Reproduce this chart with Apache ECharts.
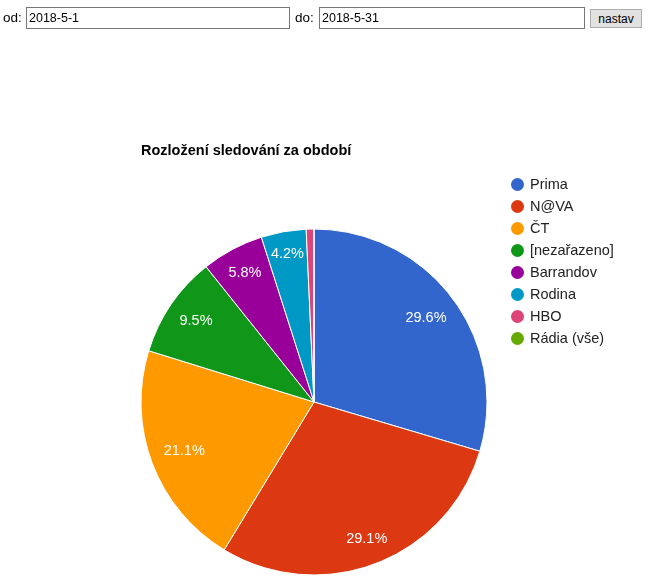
<!DOCTYPE html>
<html>
<head>
<meta charset="utf-8">
<script src="https://cdn.jsdelivr.net/npm/echarts@6/dist/echarts.min.js"></script>
<style>
  body { margin: 0; background: #fff; font-family: "Liberation Sans", Arial, sans-serif; }
  #chart { position: absolute; left: 0; top: 0; width: 654px; height: 583px; }
  #form { position: absolute; left: 0; top: 0; z-index: 2; font-size: 13.5px; color: #000; }
  #form input[type=text] { position: absolute; top: 7px; height: 20px; border: 1px solid #777; padding: 0 0 0 2px; margin: 0; font-family: "Liberation Sans", Arial, sans-serif; font-size: 12.5px; box-sizing: content-box; outline: none; }
  #form span { position: absolute; top: 10px; }
  #form button { position: absolute; top: 9px; left: 590px; width: 52px; height: 19px; margin: 0; background: #e1e1e1; border: 1px solid #adadad; font-family: "Liberation Sans", Arial, sans-serif; font-size: 12px; padding: 0; color: #000; }
</style>
</head>
<body>
<div id="form">
  <span style="left:3px">od:</span>
  <input type="text" id="od" value="2018-5-1" style="left:26px;width:260px">
  <span style="left:295px">do:</span>
  <input type="text" id="do" value="2018-5-31" style="left:319px;width:262px">
  <button>nastav</button>
</div>
<div id="chart"></div>
<script>
// data
var stanice = ['Prima', 'N@VA', 'ČT', '[nezařazeno]', 'Barrandov', 'Rodina', 'HBO', 'Rádia (vše)'];
var podil = [29.6, 29.1, 21.1, 9.5, 5.8, 4.2, 0.7, 0.02];
var barvy = ['#3366cc', '#dc3912', '#ff9900', '#109618', '#990099', '#0099c6', '#dd4477', '#66aa00'];

var center = [314, 402];
var r = 173;
var labelFont = '14.5px "Liberation Sans"';

// mereni sirky textu
var ctx = document.createElement('canvas').getContext('2d');
ctx.font = labelFont;

var total = 0;
for (var i = 0; i < podil.length; i++) total += podil[i];

var data = [];
var labelData = [];
var cum = 0;
for (var i = 0; i < stanice.length; i++) {
    data.push({ name: stanice[i], value: podil[i] });
    // popisek posunuty tak, aby jeho okraj byl na stejnem polomeru (jako google charts)
    var mid = (cum + podil[i] / 2) / total * Math.PI * 2;
    cum += podil[i];
    var dx = Math.sin(mid), dy = -Math.cos(mid);
    var txt = (podil[i] / total * 100).toFixed(1) + '%';
    var hw = ctx.measureText(txt).width / 2, hh = 7;
    var want = r * 0.91 - (hw * Math.abs(dx) + hh * Math.abs(dy));
    var shift = want - r * 0.8;
    labelData.push({
        name: stanice[i],
        value: podil[i],
        label: { offset: [dx * shift, dy * shift] }
    });
}

var chartDom = document.getElementById('chart');
var myChart = echarts.init(chartDom);
var option = {
    color: barvy,
    animation: false,
    title: {
        text: 'Rozložení sledování za období',
        left: 136,
        top: 138,
        textStyle: { fontFamily: 'Liberation Sans', fontSize: 14.5, fontWeight: 'bold', color: '#000' }
    },
    legend: {
        orient: 'vertical',
        left: 504,
        top: 171,
        icon: 'circle',
        itemWidth: 15,
        itemHeight: 15,
        itemGap: 5,
        data: stanice,
        textStyle: { fontFamily: 'Liberation Sans', fontSize: 14.5, color: '#222', padding: [0, 0, 0, 0] }
    },
    series: [
        {
            type: 'pie',
            center: center,
            radius: [0, r],
            startAngle: 90,
            clockwise: true,
            label: { show: false },
            labelLine: { show: false },
            itemStyle: { borderColor: '#fff', borderWidth: 1 },
            data: data
        },
        {
            // jen popisky
            type: 'pie',
            center: center,
            radius: [r * 0.6, r],
            startAngle: 90,
            clockwise: true,
            silent: true,
            percentPrecision: 1,
            itemStyle: { color: 'rgba(0,0,0,0)' },
            label: {
                show: true,
                position: 'inside',
                color: '#fff',
                fontFamily: 'Liberation Sans',
                fontSize: 14.5,
                formatter: function (p) {
                    if (p.percent < 1) return '';
                    return p.percent.toFixed(1) + '%';
                }
            },
            labelLine: { show: false },
            data: labelData
        }
    ]
};
option && myChart.setOption(option);
</script>
</body>
</html>
